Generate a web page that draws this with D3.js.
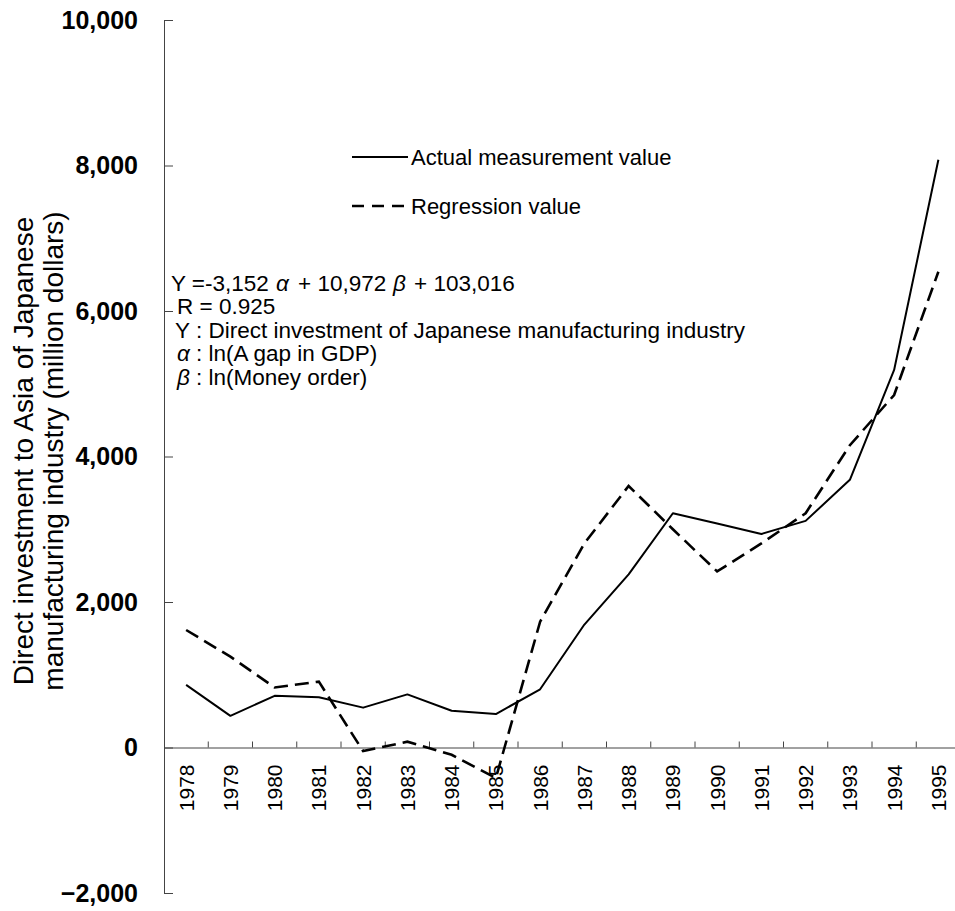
<!DOCTYPE html>
<html>
<head>
<meta charset="utf-8">
<script src="https://cdn.jsdelivr.net/npm/d3@7"></script>
<style>
  html, body { margin: 0; padding: 0; background: #fff; }
  svg { display: block; font-family: Arial, "Liberation Sans", Helvetica, sans-serif; }
  text { fill: #000; }
</style>
</head>
<body>
<svg id="chart" width="955" height="911"></svg>
<script>
// Japanese manufacturing FDI to Asia, actual vs. regression (million dollars)
const years = ["1978","1979","1980","1981","1982","1983","1984","1985","1986",
               "1987","1988","1989","1990","1991","1992","1993","1994","1995"];
const actual = [860, 435, 710, 690, 548, 730, 505, 460, 800,
                1690, 2380, 3220, 3080, 2935, 3115, 3680, 5190, 8080];
const regression = [1615, 1250, 825, 905, -50, 80, -100, -420, 1730,
                    2805, 3595, 3000, 2420, 2805, 3220, 4155, 4845, 6540];
const yTicks = [-2000, 0, 2000, 4000, 6000, 8000, 10000];
const seriesNames = ["Actual measurement value", "Regression value"];

const svg = d3.select("#chart");

const x = d3.scaleBand().domain(years).range([164, 164 + 18 * 44.25]).padding(0);
const y = d3.scaleLinear().domain([-2000, 10000]).range([893, 20]);
const cx = d => x(d) + x.bandwidth() / 2;

// y axis with inward ticks
const yAxis = svg.append("g")
  .attr("transform", `translate(${x.range()[0]},0)`)
  .call(d3.axisLeft(y).tickValues(yTicks).tickSizeInner(-9).tickSizeOuter(0)
        .tickPadding(26).tickFormat(d3.format(",")));
yAxis.select(".domain").attr("stroke", "#444");
yAxis.selectAll(".tick line").attr("stroke", "#444");
yAxis.selectAll(".tick text")
  .attr("font-size", 25).attr("font-weight", "bold")
  .attr("font-family", "Arial, 'Liberation Sans', sans-serif");

// x axis along zero, labels rotated
const xAxis = svg.append("g")
  .attr("transform", `translate(0,${y(0)})`)
  .call(d3.axisBottom(x).tickSize(0).tickSizeOuter(0));
xAxis.select(".domain").attr("stroke", "#444");
xAxis.selectAll(".tick text")
  .attr("transform", "rotate(-90)")
  .attr("x", -17).attr("y", 0).attr("dy", "0.36em")
  .attr("text-anchor", "end")
  .attr("font-size", 21)
  .attr("font-family", "Arial, 'Liberation Sans', sans-serif");

// category boundary ticks pointing up
svg.append("g").selectAll("line")
  .data(years.slice(1))
  .join("line")
  .attr("x1", d => x(d)).attr("x2", d => x(d))
  .attr("y1", y(0)).attr("y2", y(0) - 6)
  .attr("stroke", "#444");

// y axis title
const title = svg.append("text")
  .attr("transform", "translate(0,451) rotate(-90)")
  .attr("text-anchor", "middle")
  .attr("font-size", 28);
title.append("tspan").attr("x", 0).attr("y", 33).text("Direct investment to Asia of Japanese");
title.append("tspan").attr("x", 0).attr("y", 63).text("manufacturing industry (million dollars)");

// series lines
const line = vals => d3.line().x((d, i) => cx(years[i])).y(d => y(d))(vals);
svg.append("path").attr("d", line(actual))
  .attr("fill", "none").attr("stroke", "#000").attr("stroke-width", 2)
  .attr("stroke-linejoin", "round");
svg.append("path").attr("d", line(regression))
  .attr("fill", "none").attr("stroke", "#000").attr("stroke-width", 2.6)
  .attr("stroke-dasharray", "14,7");

// legend
const legend = svg.append("g");
legend.append("line").attr("x1", 352).attr("x2", 408).attr("y1", 157).attr("y2", 157)
  .attr("stroke", "#000").attr("stroke-width", 2);
legend.append("text").attr("x", 411).attr("y", 165).attr("font-size", 22).text(seriesNames[0]);
legend.append("line").attr("x1", 352).attr("x2", 408).attr("y1", 206).attr("y2", 206)
  .attr("stroke", "#000").attr("stroke-width", 2.4).attr("stroke-dasharray", "12,8");
legend.append("text").attr("x", 411).attr("y", 214).attr("font-size", 22).text(seriesNames[1]);

// regression equation note
const note = svg.append("g").attr("font-size", 22.5);
const put = (tx, ty, s, italic) => note.append("text").attr("x", tx).attr("y", ty)
  .attr("font-style", italic ? "italic" : null).text(s);
put(171, 291, "Y =-3,152");
put(276, 291, "\u03b1", true);
put(298, 291, "+ 10,972");
put(393, 291, "\u03b2", true);
put(414, 291, "+ 103,016");
put(177, 314, "R = 0.925");
put(175, 338, "Y");
put(196, 338, ": Direct investment of Japanese manufacturing industry");
put(177, 361, "\u03b1", true);
put(196, 361, ": ln(A gap in GDP)");
put(177, 385, "\u03b2", true);
put(196, 385, ": ln(Money order)");
</script>
</body>
</html>
